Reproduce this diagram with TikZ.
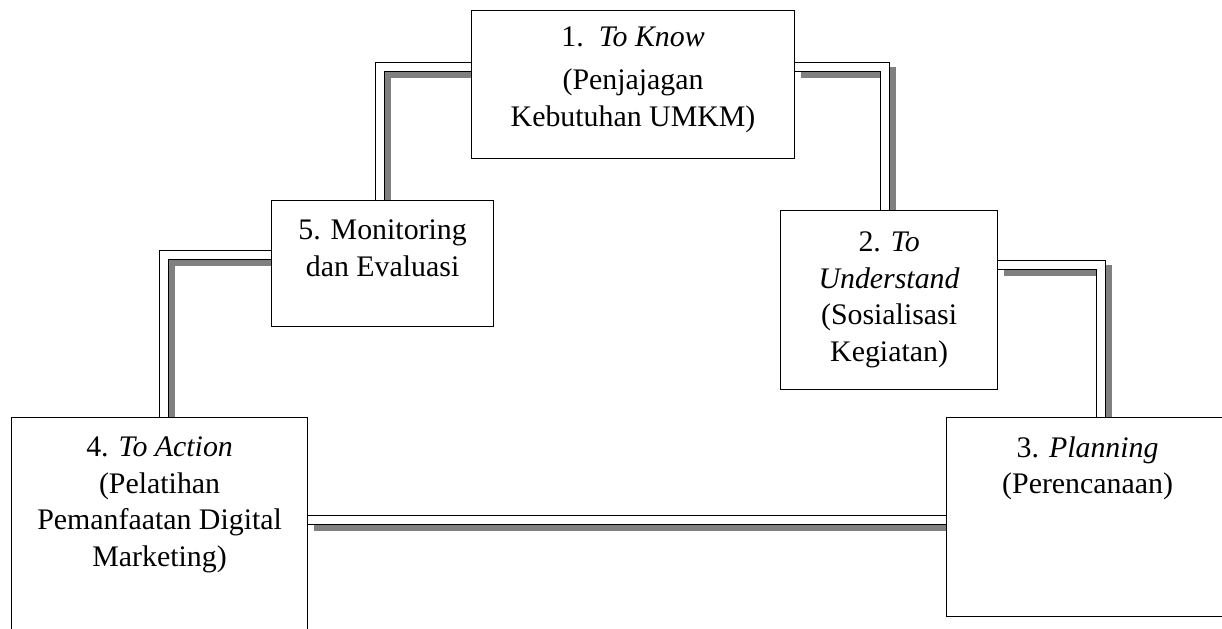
\documentclass[tikz,border=0pt]{standalone}
\usepackage{fontspec}
\setmainfont{Liberation Serif}
\usetikzlibrary{positioning}
\pgfdeclarelayer{background}
\pgfsetlayers{background,main}
\tikzset{
  kotak/.style={draw, line width=0.7pt, fill=white, anchor=north west, inner sep=0pt},
  teks/.style={align=center, inner sep=0pt, font=\fontsize{17}{21}\selectfont},
  garis/.style={draw=black, double=white, double distance=0.17cm, line width=0.024cm},
  bayang/.style={draw=black!50, line width=0.22cm, transform canvas={shift={(0.12cm,-0.12cm)}}},
}
\def\hubung[#1](#2)(#3){\draw[bayang] (#2) #1 (#3); \draw[garis] (#2) #1 (#3);}

\begin{document}
\begin{tikzpicture}[x=0.02cm, y=-0.02cm]
		\useasboundingbox (0,0) rectangle (1222,628);
		%%%%% kotak %%%%%
		\node[kotak, minimum width=6.46cm, minimum height=2.96cm] (k1) at (471,10) {};
		\node[kotak, minimum width=4.34cm, minimum height=3.58cm] (k2) at (780,210) {};
		\node[kotak, minimum width=5.84cm, minimum height=3.98cm] (k3) at (946,417) {};
		\node[kotak, minimum width=5.92cm, minimum height=4.60cm] (k4) at (11,417) {};
		\node[kotak, minimum width=4.44cm, minimum height=2.52cm] (k5) at (271,200) {};
		
		\node[teks, below=0.32cm of k1.north] (t1) {1.\ \ \textit{To Know}\\[4pt](Penjajagan\\Kebutuhan UMKM)};
		\node[teks, below=0.42cm of k2.north] (t2) {2. \textit{To}\\\textit{Understand}\\(Sosialisasi\\Kegiatan)};
		\node[teks, below=0.38cm of k3.north, xshift=-0.1cm] (t3) {3. \textit{Planning}\\(Perencanaan)};
		\node[teks, below=0.38cm of k4.north] (t4) {4. \textit{To Action}\\(Pelatihan\\Pemanfaatan Digital\\Marketing)};
		\node[teks, below=0.38cm of k5.north] (t5) {5. Monitoring\\dan Evaluasi};
		
		%%%%% garis %%%%%
		\begin{pgfonlayer}{background}
		\hubung[-|]([yshift=-1.14cm]k1.north west)([xshift=2.18cm]k5.north west)
		\hubung[-|]([yshift=-1.14cm]k1.north east)([xshift=2.10cm]k2.north west)
		\hubung[-|]([yshift=-1.10cm]k2.north east)([xshift=3.10cm]k3.north west)
		\hubung[--]([yshift=-2.06cm]k4.north east)([yshift=-2.06cm]k3.north west)
		\hubung[|-]([xshift=3.06cm]k4.north west)([yshift=-1.10cm]k5.north west)
		\end{pgfonlayer}
	\end{tikzpicture}
\end{document}
